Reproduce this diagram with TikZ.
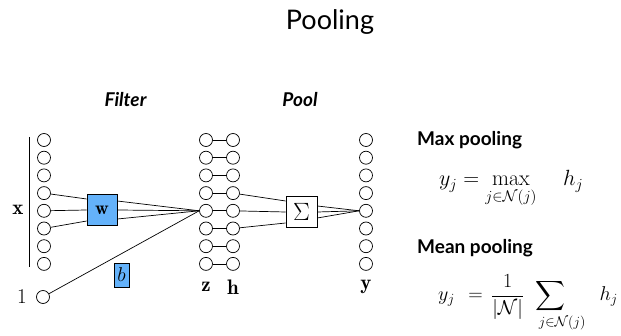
\RequirePackage{fix-cm}
\documentclass[tikz,border=0pt]{standalone}
\usepackage{mathtools}
\usepackage{fontspec}
\setsansfont{Lato}
\definecolor{boxblue}{RGB}{100,178,250}
\begin{document}
\begin{tikzpicture}[x=1pt,y=-1pt,
  neuron/.style={circle,draw,line width=0.7pt,minimum size=13pt,inner sep=0pt},
  wgt/.style={draw,line width=0.7pt,inner sep=0pt},
  conn/.style={line width=0.7pt},
  lbl/.style={font=\fontsize{21}{25}\selectfont,inner sep=0pt},
  head/.style={font=\sffamily\bfseries\itshape\fontsize{19}{22}\selectfont,inner sep=0pt},
  sect/.style={font=\sffamily\bfseries\fontsize{19}{22}\selectfont,inner sep=0pt,anchor=west},
  formula/.style={inner sep=0pt,anchor=base west}]
\useasboundingbox (0,0) rectangle (621,336);
\node[font=\sffamily\fontsize{27}{32}\selectfont] (title) at (330,22) {Pooling};
\node[head] (filter) at (125.5,100) {Filter};
\node[head] (pool) at (300,100) {Pool};
\foreach \i in {1,...,8}{
  \node[neuron] (x\i) at (44,{140+17.7*(\i-1)}) {};
  \node[neuron] (z\i) at (206,{140+17.7*(\i-1)}) {};
  \node[neuron] (h\i) at (233,{140+17.7*(\i-1)}) {};
  \node[neuron] (y\i) at (366,{140+17.7*(\i-1)}) {};
  \draw[conn] (z\i) -- (h\i);
}
\node[neuron] (one) at (43,297) {};
\node[lbl,font=\fontsize{21}{25}\selectfont] (onelbl) at (22,297) {$1$};
\draw[line width=0.7pt] (29,137) -- (29,267);
\node[lbl] (xl) at (18,210) {$\mathbf{x}$};
\node[lbl] (zl) at (206,287) {$\mathbf{z}$};
\node[lbl] (hl) at (233,287) {$\mathbf{h}$};
\node[lbl] (yl) at (366,287) {$\mathbf{y}$};
\node[wgt,fill=boxblue,minimum width=30pt,minimum height=31pt,font=\fontsize{19}{23}\selectfont] (w) at (102,210) {$\mathbf{w}$};
\node[wgt,fill=boxblue,minimum width=15pt,minimum height=24pt,font=\fontsize{20}{24}\selectfont] (b) at (121.5,275) {$b$};
\node[wgt,fill=white,minimum width=31pt,minimum height=31pt,font=\fontsize{25}{30}\selectfont] (s) at (301.5,212) {$\Sigma$};
\draw[conn] (x4) -- ([yshift=11pt]w.west);
\draw[conn] (x5) -- (w.west);
\draw[conn] (x6) -- ([yshift=-11pt]w.west);
\draw[conn] ([yshift=9pt]w.east) -- (z5.west);
\draw[conn] (w.east) -- (z5.west);
\draw[conn] ([yshift=-9pt]w.east) -- (z5.west);
\draw[conn] (one) -- (z5.west);
\draw[conn] (h4) -- ([yshift=11pt]s.west);
\draw[conn] (h5) -- (s.west);
\draw[conn] (h6) -- ([yshift=-11pt]s.west);
\draw[conn] ([yshift=6pt]s.east) -- (y5.west);
\draw[conn] (s.east) -- (y5.west);
\draw[conn] ([yshift=-6pt]s.east) -- (y5.west);
\node[sect] (maxp) at (417,140) {Max pooling};
\node[sect] (meanp) at (417,248) {Mean pooling};
\node[formula,font=\fontsize{22}{26}\selectfont] (f1) at (439,186)
  {$y_j = \max\limits_{j\in\mathcal{N}(j)}\hspace{23pt} h_j$};
\node[formula,font=\fontsize{20}{24}\selectfont] (f2) at (438,301)
  {$\displaystyle y_j \hspace{8pt}= \hspace{3pt}\dfrac{1}{|\mathcal{N}|}\hspace{8pt}\sum_{\mathrlap{\kern-11.5pt j\in\mathcal{N}(j)}}\hspace{31pt} h_j$};
\end{tikzpicture}
\end{document}
